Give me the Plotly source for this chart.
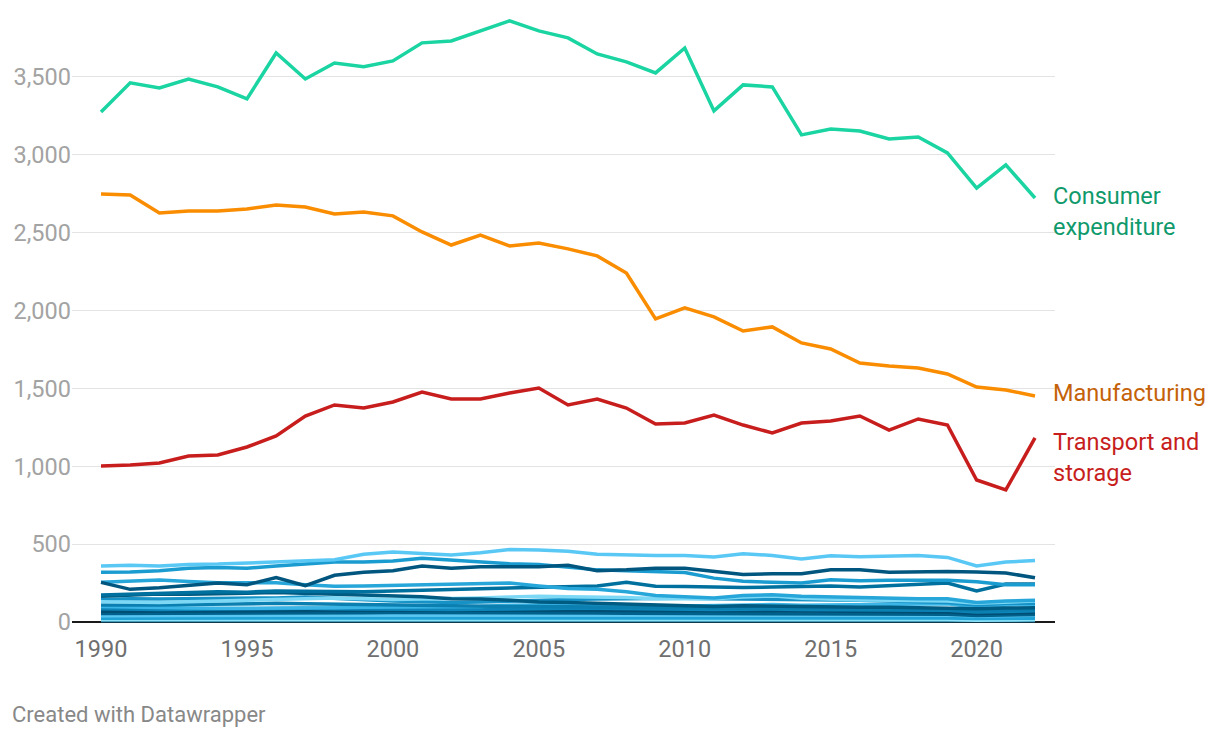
import plotly.graph_objects as go

years = list(range(1990, 2023))

consumer = [3275, 3462, 3430, 3487, 3436, 3359, 3654, 3487, 3590, 3565, 3603, 3719, 3731, 3796, 3860,
            3796, 3751, 3648, 3597, 3526, 3686, 3282, 3449, 3436, 3128, 3166, 3153, 3102, 3115, 3012,
            2787, 2935, 2723]
manufacturing = [2749, 2742, 2627, 2640, 2640, 2652, 2678, 2665, 2620, 2633, 2608, 2505, 2421, 2485, 2415,
                 2434, 2396, 2351, 2241, 1946, 2017, 1959, 1869, 1895, 1792, 1753, 1663, 1644, 1631, 1593,
                 1509, 1490, 1452]
transport = [1002, 1008, 1021, 1066, 1073, 1124, 1195, 1323, 1394, 1374, 1413, 1477, 1432, 1432, 1471,
             1503, 1394, 1432, 1374, 1272, 1278, 1329, 1265, 1214, 1278, 1291, 1323, 1233, 1304, 1265,
             912, 848, 1182]

other_a = [360, 365, 360, 370, 372, 380, 388, 395, 400, 435, 450, 440, 430, 445, 465, 462, 455, 435, 430, 428,
           428, 418, 438, 428, 405, 425, 420, 425, 428, 415, 360, 385, 395]
other_b = [320, 322, 330, 345, 350, 345, 360, 375, 385, 385, 392, 410, 398, 385, 375, 370, 355, 335, 330, 325,
           318, 282, 262, 255, 250, 272, 265, 268, 268, 268, 258, 240, 240]
other_n = [255, 210, 220, 235, 250, 240, 285, 233, 300, 320, 330, 360, 345, 355, 355, 355, 365, 330, 335, 345,
           345, 325, 305, 310, 310, 335, 335, 320, 325, 325, 322, 315, 285]
other_c = [255, 262, 270, 260, 252, 252, 252, 240, 230, 232, 235, 240, 240, 245, 250, 232, 215, 210, 195, 170,
           165, 155, 170, 175, 165, 160, 158, 150, 150, 150, 125, 135, 140]
other_d = [173, 178, 185, 192, 195, 192, 200, 198, 195, 195, 200, 205, 210, 212, 218, 225, 225, 232, 255, 230,
           228, 225, 222, 225, 228, 232, 225, 235, 242, 250, 200, 244, 244]
other_e = [165, 175, 180, 178, 180, 185, 190, 185, 180, 170, 165, 162, 150, 148, 140, 128, 125, 120, 118, 110,
           105, 100, 105, 102, 100, 95, 95, 95, 92, 90, 85, 90, 92]
other_f = [130, 128, 125, 130, 135, 140, 145, 150, 155, 150, 145, 148, 150, 155, 160, 165, 162, 160, 158, 150,
           148, 150, 160, 168, 152, 145, 142, 140, 138, 135, 120, 130, 135]
other_g = [145, 150, 148, 150, 152, 150, 155, 160, 150, 140, 135, 130, 125, 128, 135, 140, 145, 148, 150, 150,
           152, 150, 148, 150, 148, 145, 140, 135, 130, 125, 110, 120, 120]
other_h = [110, 108, 110, 112, 115, 118, 120, 118, 115, 112, 110, 108, 105, 102, 100, 100, 98, 96, 95, 90,
           92, 90, 88, 88, 86, 85, 84, 82, 82, 80, 70, 78, 80]
other_i = [70, 70, 70, 72, 72, 72, 74, 75, 75, 75, 76, 78, 78, 76, 75, 76, 76, 75, 74, 70,
           70, 70, 72, 72, 70, 68, 68, 66, 66, 64, 55, 60, 62]
other_j = [100, 95, 92, 90, 88, 88, 90, 92, 92, 95, 95, 95, 98, 100, 108, 112, 112, 110, 108, 100,
           102, 105, 110, 112, 108, 110, 112, 115, 118, 118, 95, 110, 112]
other_k = [40, 40, 40, 42, 42, 42, 44, 44, 45, 45, 46, 46, 46, 48, 48, 50, 50, 50, 48, 46,
           46, 46, 48, 48, 46, 46, 46, 46, 45, 45, 38, 42, 44]
other_l = [55, 55, 56, 56, 58, 58, 58, 60, 60, 60, 62, 62, 60, 60, 58, 58, 58, 58, 56, 55,
           55, 54, 54, 54, 52, 52, 52, 52, 50, 50, 42, 46, 48]
other_m = [25, 25, 25, 26, 26, 26, 27, 27, 28, 28, 28, 28, 28, 29, 30, 30, 30, 30, 30, 28,
           28, 28, 28, 28, 28, 27, 27, 27, 26, 26, 22, 24, 25]
other_o = [15, 15, 15, 15, 16, 16, 16, 16, 16, 17, 17, 17, 17, 17, 18, 18, 18, 18, 18, 16,
           16, 16, 16, 16, 16, 16, 16, 16, 15, 15, 12, 14, 14]
other_p = [85, 82, 80, 82, 84, 85, 88, 88, 86, 84, 82, 80, 80, 82, 85, 86, 88, 88, 86, 82,
           82, 80, 82, 84, 80, 78, 78, 76, 76, 75, 65, 70, 72]
other_q = [8, 8, 8, 8, 8, 8, 9, 9, 9, 9, 9, 9, 9, 9, 10, 10, 10, 10, 10, 9,
           9, 9, 9, 9, 9, 9, 9, 9, 9, 9, 7, 8, 8]

others = [
    (other_q, "#005a80"), (other_o, "#8ae0f7"), (other_m, "#1fa2d6"), (other_k, "#59c6f2"),
    (other_l, "#00628c"), (other_i, "#004e73"), (other_p, "#0d85b8"), (other_j, "#3ab5e6"),
    (other_h, "#0a7fb0"), (other_g, "#1792c6"), (other_f, "#7dd8f5"), (other_e, "#005b82"),
    (other_d, "#00709e"), (other_c, "#27a6d9"), (other_b, "#1a9cd0"), (other_n, "#00567f"),
    (other_a, "#5ac8f5"),
]

highlights = [
    ("Consumer<br>expenditure", consumer, "#1ad4a2", "#0f9a6c", 14),
    ("Manufacturing", manufacturing, "#fa8c00", "#c4620a", -3),
    ("Transport and<br>storage", transport, "#c71e1d", "#c71e1d", 20),
]

fig = go.Figure()
for vals, col in others:
    fig.add_trace(go.Scatter(x=years, y=vals, mode="lines", line=dict(color=col, width=3.5),
                             showlegend=False, hoverinfo="skip"))
for name, vals, col, tcol, ysh in highlights:
    fig.add_trace(go.Scatter(x=years, y=vals, mode="lines", line=dict(color=col, width=3.5),
                             showlegend=False, name=name.replace("<br>", " ")))
    fig.add_annotation(x=years[-1], y=vals[-1], text=name, showarrow=False, xanchor="left",
                       yanchor="middle", align="left", xshift=16, yshift=-ysh,
                       font=dict(family="Roboto", size=23.5, color=tcol))

fig.add_annotation(xref="paper", yref="paper", x=-0.063, y=-0.1463, xanchor="left", yanchor="middle",
                   text="Created with Datawrapper", showarrow=False,
                   font=dict(family="Roboto", size=22, color="#888888"))

fig.update_layout(
    width=1220, height=738,
    margin=dict(l=64, r=173, t=2, b=121),
    paper_bgcolor="white", plot_bgcolor="white",
    font=dict(family="Roboto"),
    xaxis=dict(range=[1989.006, 2022.685], tickvals=[1990, 1995, 2000, 2005, 2010, 2015, 2020],
               showgrid=False, zeroline=False, showline=False, ticks="", ticklabelstandoff=7,
               tickfont=dict(size=23.5, color="#6f6f6f")),
    yaxis=dict(range=[-19, 3930], tickvals=[0, 500, 1000, 1500, 2000, 2500, 3000, 3500],
               tickformat=",d", showgrid=True, gridcolor="#e3e3e3", gridwidth=1,
               zeroline=True, zerolinecolor="#1a1a1a", zerolinewidth=2, ticks="",
               tickfont=dict(size=23.5, color="#a3a3a3")),
)

fig.write_html("out.html")
